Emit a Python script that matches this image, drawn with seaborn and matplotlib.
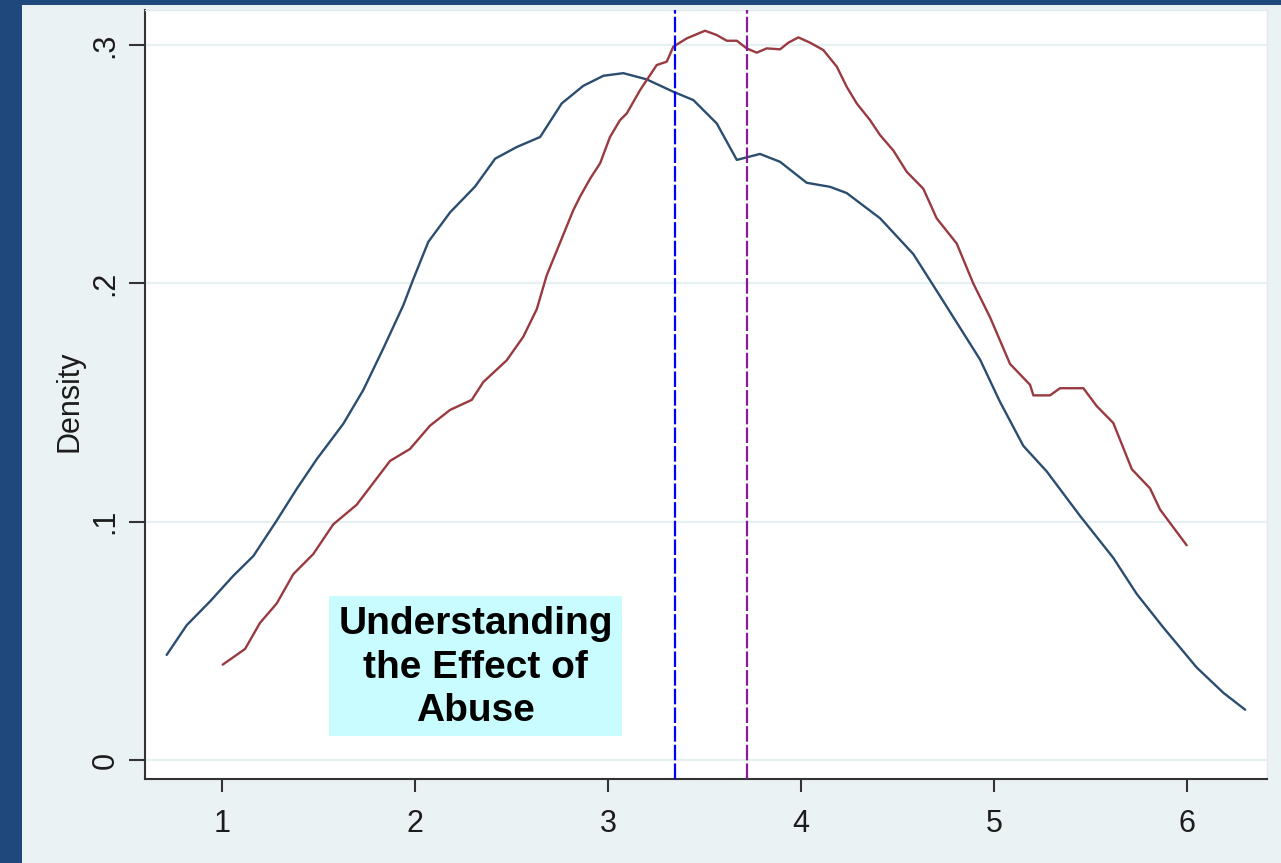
import matplotlib
matplotlib.use("Agg")
import matplotlib.pyplot as plt
import numpy as np
import pandas as pd
import seaborn as sns
from matplotlib.patches import Rectangle

# ---------------- data ----------------
blue_x = [0.715, 0.819, 0.939, 1.060, 1.164, 1.285, 1.388, 1.492, 1.630, 1.733,
          1.837, 1.941, 1.992, 2.070, 2.183, 2.312, 2.416, 2.528, 2.649, 2.761,
          2.873, 2.977, 3.080, 3.201, 3.339, 3.443, 3.564, 3.668, 3.788, 3.892,
          4.030, 4.151, 4.237, 4.410, 4.582, 4.721, 4.928, 5.031, 5.152, 5.273,
          5.445, 5.618, 5.739, 5.877, 6.050, 6.188, 6.301]
blue_y = [0.0441, 0.0566, 0.0665, 0.0773, 0.0856, 0.1005, 0.1137, 0.1262, 0.1411, 0.1552,
          0.1727, 0.1909, 0.2017, 0.2174, 0.2298, 0.2406, 0.2523, 0.2572, 0.2614, 0.2755,
          0.2829, 0.2871, 0.2882, 0.2856, 0.2804, 0.2769, 0.2671, 0.2518, 0.2543, 0.2510,
          0.2422, 0.2405, 0.2379, 0.2273, 0.2123, 0.1946, 0.1680, 0.1503, 0.1318, 0.1211,
          0.1025, 0.0848, 0.0697, 0.0556, 0.0388, 0.0282, 0.0211]

red_x = [1.005, 1.121, 1.198, 1.285, 1.371, 1.474, 1.578, 1.699, 1.872, 1.975,
         2.079, 2.183, 2.295, 2.355, 2.476, 2.562, 2.632, 2.683, 2.821, 2.856,
         2.908, 2.960, 3.011, 3.063, 3.098, 3.167, 3.253, 3.305, 3.339, 3.409,
         3.503, 3.564, 3.616, 3.668, 3.719, 3.771, 3.823, 3.892, 3.935, 3.987,
         4.047, 4.116, 4.186, 4.237, 4.289, 4.358, 4.410, 4.479, 4.548, 4.634,
         4.703, 4.807, 4.893, 4.980, 5.083, 5.187, 5.204, 5.290, 5.342, 5.463,
         5.532, 5.618, 5.714, 5.808, 5.860, 5.998]
red_y = [0.0400, 0.0466, 0.0575, 0.0657, 0.0780, 0.0864, 0.0989, 0.1071, 0.1255, 0.1305,
         0.1403, 0.1469, 0.1511, 0.1586, 0.1677, 0.1776, 0.1892, 0.2033, 0.2307, 0.2364,
         0.2439, 0.2504, 0.2614, 0.2685, 0.2713, 0.2811, 0.2916, 0.2930, 0.2993, 0.3028,
         0.3060, 0.3042, 0.3018, 0.3018, 0.2986, 0.2968, 0.2986, 0.2982, 0.3010, 0.3032,
         0.3010, 0.2979, 0.2909, 0.2825, 0.2755, 0.2685, 0.2622, 0.2557, 0.2468, 0.2397,
         0.2273, 0.2167, 0.1999, 0.1857, 0.1662, 0.1574, 0.1530, 0.1530, 0.1560, 0.1560,
         0.1485, 0.1414, 0.1220, 0.1140, 0.1051, 0.0901]

mean_lines = [3.348, 3.720]
mean_colors = ["#0000ff", "#8a1a9b"]

x_ticks = [1, 2, 3, 4, 5, 6]
x_tick_labels = ["1", "2", "3", "4", "5", "6"]
y_ticks = [0.0, 0.1, 0.2, 0.3]
y_tick_labels = ["0", ".1", ".2", ".3"]
y_label = "Density"
box_lines = ["Understanding", "the Effect of", "Abuse"]

# ---------------- style ----------------
sns.set_theme(style="white")
plt.rcParams["font.family"] = ["Liberation Sans", "DejaVu Sans"]

W, H = 1281, 863
fig = plt.figure(figsize=(W / 100, H / 100), dpi=100, facecolor="#eaf2f3")

# dark slide border (left and top)
fig.patches.append(Rectangle((0, 0), 22 / W, 1, transform=fig.transFigure,
                             facecolor="#1f497d", edgecolor="none", zorder=0))
fig.patches.append(Rectangle((0, 1 - 5 / H), 1, 5 / H, transform=fig.transFigure,
                             facecolor="#1f497d", edgecolor="none", zorder=0))

ax = fig.add_axes([145 / W, 1 - 779 / H, (1267 - 145) / W, (779 - 10) / H])
ax.set_facecolor("white")

df_b = pd.DataFrame({"x": blue_x, "y": blue_y})
df_r = pd.DataFrame({"x": red_x, "y": red_y})
sns.lineplot(data=df_b, x="x", y="y", ax=ax, color="#2a4d70", lw=1.7,
             sort=False, estimator=None, zorder=3)
sns.lineplot(data=df_r, x="x", y="y", ax=ax, color="#983a40", lw=1.7,
             sort=False, estimator=None, zorder=3)

for xv, c in zip(mean_lines, mean_colors):
    ax.axvline(xv, color=c, lw=1.6, linestyle=(0, (7, 1.4)), zorder=4)

ax.set_xlim(0.6027, 6.414)
ax.set_ylim(-0.00797, 0.3147)

ax.set_xticks(x_ticks)
ax.set_xticklabels(x_tick_labels)
ax.set_yticks(y_ticks)
ax.set_yticklabels(y_tick_labels, rotation=90, va="center")

ax.yaxis.grid(True, color="#e6eff1", lw=1.6)
ax.xaxis.grid(False)
ax.set_axisbelow(True)

ax.tick_params(axis="x", length=9.5, width=1.5, pad=12, labelsize=22,
               color="#333333", labelcolor="#1c1c1c", bottom=True)
ax.tick_params(axis="y", length=11.5, width=1.5, pad=6, labelsize=22,
               color="#333333", labelcolor="#1c1c1c", left=True)

for s in ["left", "bottom"]:
    ax.spines[s].set_color("#333333")
    ax.spines[s].set_linewidth(1.5)
for s in ["top", "right"]:
    ax.spines[s].set_color("#e2eaec")
    ax.spines[s].set_linewidth(1.0)

ax.set_xlabel("")
ax.set_ylabel(y_label, fontsize=22, color="#1c1c1c")
ax.yaxis.set_label_coords(-0.0535, 0.491)

# annotation box
ax.add_patch(Rectangle((1.556, 0.0101), 1.517, 0.0587, facecolor="#c8fcff",
                       edgecolor="none", zorder=2))
ax.text(2.315, 0.0388, "\n".join(box_lines), ha="center", va="center",
        fontsize=28, fontweight="bold", color="black", linespacing=1.26, zorder=5)

fig.savefig("out.png", dpi=100, facecolor=fig.get_facecolor())
